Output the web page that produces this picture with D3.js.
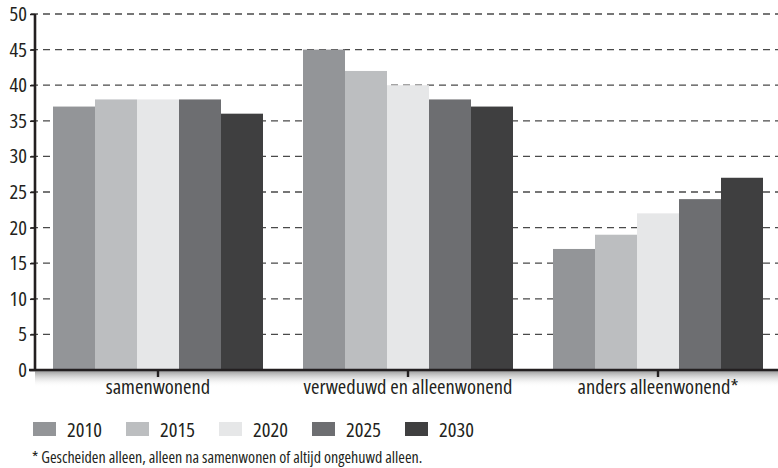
<!DOCTYPE html>
<html>
<head>
<meta charset="utf-8">
<script src="https://cdn.jsdelivr.net/npm/d3@7"></script>
<style>
  html, body { margin: 0; padding: 0; background: #fff; }
  svg { display: block; }
  svg text { font-family: "Open Sans", "DejaVu Sans Condensed", sans-serif; font-stretch: 75%; fill: #231f20; }
</style>
</head>
<body>
<svg id="chart" width="778" height="468"></svg>
<script>
// Household categories, years and shares (%)
const categories = ["samenwonend", "verweduwd en alleenwonend", "anders alleenwonend*"];
const years = ["2010", "2015", "2020", "2025", "2030"];
const values2010 = [37, 45, 17];
const values2015 = [38, 42, 19];
const values2020 = [38, 40, 22];
const values2025 = [38, 38, 24];
const values2030 = [36, 37, 27];
const yTicks = [0, 5, 10, 15, 20, 25, 30, 35, 40, 45, 50];
const yearColors = ["#939598", "#bcbec0", "#e6e7e8", "#6d6e71", "#3f3f40"];
const footnote = "* Gescheiden alleen, alleen na samenwonen of altijd ongehuwd alleen.";

const series = [values2010, values2015, values2020, values2025, values2030];

const svg = d3.select("#chart");
const plotLeft = 35, plotTop = 14, plotBottom = 370;
const bandStart = 33, bandEnd = 783;
const labelSize = 20.5;

const x = d3.scaleBand().domain(categories).range([bandStart, bandEnd])
  .paddingInner(0.16).paddingOuter(0.08);
const xi = d3.scaleBand().domain(years).range([0, x.bandwidth()]);
const y = d3.scaleLinear().domain([0, 50]).range([plotBottom, plotTop]);
const color = d3.scaleOrdinal().domain(years).range(yearColors);

// soft shadow under the baseline
const defs = svg.append("defs");
const grad = defs.append("linearGradient").attr("id", "baseShadow")
  .attr("x1", 0).attr("y1", 0).attr("x2", 0).attr("y2", 1);
grad.append("stop").attr("offset", "0%").attr("stop-color", "#8c8c8c").attr("stop-opacity", 0.85);
grad.append("stop").attr("offset", "100%").attr("stop-color", "#ffffff").attr("stop-opacity", 0);
svg.append("rect").attr("x", plotLeft).attr("y", plotBottom + 1)
  .attr("width", 778 - plotLeft).attr("height", 16).attr("fill", "url(#baseShadow)");

// dashed gridlines
svg.append("g").selectAll("line")
  .data(yTicks.filter(d => d > 0))
  .join("line")
  .attr("x1", plotLeft - 4).attr("x2", 778)
  .attr("y1", d => y(d)).attr("y2", d => y(d))
  .attr("stroke", "#4a4a4a").attr("stroke-width", 1.3)
  .attr("stroke-dasharray", "7,5");

// bars
const groups = svg.append("g").selectAll("g")
  .data(categories)
  .join("g")
  .attr("transform", d => `translate(${x(d)},0)`);

groups.selectAll("rect")
  .data((c, ci) => years.map((yr, yi) => ({ yr, v: series[yi][ci] })))
  .join("rect")
  .attr("x", d => xi(d.yr))
  .attr("y", d => y(d.v))
  .attr("width", xi.bandwidth())
  .attr("height", d => y(0) - y(d.v))
  .attr("fill", d => color(d.yr));

// y axis
const yAxis = d3.axisLeft(y).tickValues(yTicks).tickSize(5).tickPadding(3);
const gy = svg.append("g").attr("transform", `translate(${plotLeft},0)`).call(yAxis);
gy.select(".domain").attr("stroke", "#231f20").attr("stroke-width", 2.6)
  .attr("d", `M0,${plotTop}V${plotBottom + 1}`);
gy.selectAll(".tick line").attr("stroke", "#231f20").attr("stroke-width", 1.5);
gy.selectAll(".tick text").attr("font-size", labelSize);

// x axis
const xAxis = d3.axisBottom(x).tickSize(7).tickPadding(2);
const gx = svg.append("g").attr("transform", `translate(0,${plotBottom})`).call(xAxis);
gx.select(".domain").attr("stroke", "#231f20").attr("stroke-width", 2.6)
  .attr("d", `M${plotLeft - 6},0H778`);
gx.selectAll(".tick line").attr("stroke", "#231f20").attr("stroke-width", 2.4);
gx.selectAll(".tick text").attr("font-size", labelSize);

// legend
const legend = svg.append("g").selectAll("g")
  .data(years)
  .join("g")
  .attr("transform", (d, i) => `translate(${33 + i * 93},422)`);
legend.append("rect").attr("width", 23).attr("height", 14).attr("fill", d => color(d));
legend.append("text").attr("x", 34).attr("y", 15).attr("font-size", labelSize).text(d => d);

// footnote
svg.append("text").attr("x", 32).attr("y", 463).attr("font-size", 16).text(footnote);
</script>
</body>
</html>
